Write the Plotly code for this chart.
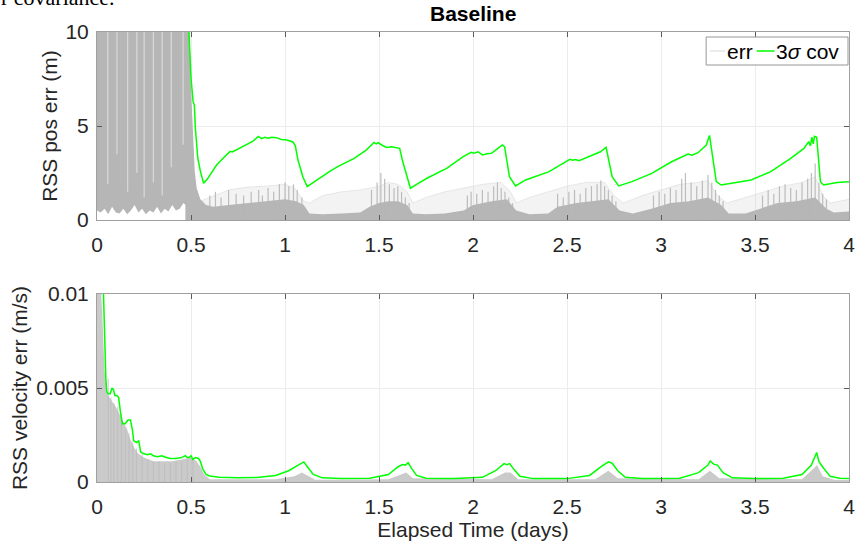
import plotly.graph_objects as go
from plotly.subplots import make_subplots

# ---------------- data ----------------
x_ticks = [0, 0.5, 1, 1.5, 2, 2.5, 3, 3.5, 4]
x_tick_labels = ["0", "0.5", "1", "1.5", "2", "2.5", "3", "3.5", "4"]
pos_y_ticks = [0, 5, 10]
pos_y_tick_labels = ["0", "5", "10"]
vel_y_ticks = [0, 0.005, 0.01]
vel_y_tick_labels = ["0", "0.005", "0.01"]
legend_labels = ["err", "3<i>σ</i> cov"]

# 3-sigma position covariance (m)
pos_cov_t = [0.488, 0.500, 0.511, 0.518, 0.523, 0.536, 0.550, 0.567, 0.585, 0.603, 0.637, 0.672,
             0.708, 0.720, 0.760, 0.796, 0.830, 0.858, 0.875, 0.893, 0.910, 0.930, 0.954, 0.980,
             1.010, 1.042, 1.055, 1.069, 1.082, 1.095, 1.118, 1.150, 1.190, 1.240, 1.280, 1.368,
             1.430, 1.473, 1.485, 1.495, 1.515, 1.540, 1.566, 1.610, 1.624, 1.640, 1.667, 1.700,
             1.755, 1.860, 1.948, 1.990, 2.005, 2.027, 2.050, 2.075, 2.098, 2.133, 2.156, 2.168,
             2.180, 2.194, 2.226, 2.280, 2.405, 2.493, 2.515, 2.530, 2.545, 2.564, 2.634, 2.678,
             2.708, 2.722, 2.740, 2.775, 2.845, 2.951, 3.056, 3.144, 3.165, 3.197, 3.241, 3.258,
             3.276, 3.294, 3.320, 3.479, 3.584, 3.690, 3.760, 3.786, 3.795, 3.802, 3.810, 3.816,
             3.828, 3.839, 3.848, 3.865, 3.936, 4.000]
pos_cov_v = [10.2, 7.55, 6.31, 6.10, 4.90, 3.30, 2.59, 1.95, 2.15, 2.41, 2.94, 3.30,
             3.65, 3.62, 3.82, 4.00, 4.20, 4.45, 4.33, 4.40, 4.35, 4.40, 4.38, 4.28,
             4.26, 4.15, 3.95, 3.19, 2.70, 2.30, 1.78, 2.00, 2.30, 2.60, 2.84, 3.28,
             3.70, 4.13, 4.05, 4.12, 3.99, 3.86, 3.90, 3.81, 3.19, 2.66, 1.69, 1.90,
             2.22, 2.75, 3.37, 3.60, 3.55, 3.63, 3.46, 3.52, 3.55, 3.81, 3.99, 3.90,
             3.19, 2.30, 1.81, 2.13, 2.57, 3.10, 3.23, 3.18, 3.22, 3.15, 3.46, 3.63,
             3.86, 3.19, 2.30, 1.81, 2.04, 2.48, 3.10, 3.51, 3.45, 3.58, 3.99, 4.50,
             3.19, 2.04, 1.86, 2.13, 2.57, 3.28, 3.81, 4.17, 3.94, 4.40, 4.05, 4.45,
             4.40, 3.19, 2.04, 1.86, 1.99, 2.04]

# 3-sigma velocity covariance (m/s)
vel_cov_t = [0.034, 0.038, 0.042, 0.047, 0.052, 0.060, 0.070, 0.080, 0.088, 0.095, 0.105, 0.115,
             0.125, 0.135, 0.150, 0.165, 0.178, 0.188, 0.195, 0.210, 0.222, 0.232, 0.250, 0.270,
             0.285, 0.300, 0.320, 0.345, 0.365, 0.390, 0.420, 0.450, 0.470, 0.480, 0.490, 0.500,
             0.510, 0.525, 0.540, 0.550, 0.562, 0.580, 0.600, 0.650, 0.750, 0.850, 0.950, 1.020,
             1.070, 1.100, 1.120, 1.150, 1.200, 1.300, 1.450, 1.550, 1.600, 1.625, 1.640, 1.655,
             1.675, 1.700, 1.750, 1.900, 2.050, 2.120, 2.165, 2.180, 2.195, 2.215, 2.250, 2.320,
             2.500, 2.620, 2.680, 2.720, 2.740, 2.770, 2.810, 2.900, 3.100, 3.200, 3.250, 3.262,
             3.280, 3.300, 3.330, 3.380, 3.500, 3.650, 3.750, 3.800, 3.828, 3.840, 3.860, 3.900,
             3.950, 4.000]
vel_cov_v = [0.0102, 0.0085, 0.0068, 0.0055, 0.0048, 0.0047, 0.0047, 0.0050, 0.0049, 0.0046, 0.0046, 0.0045,
             0.0037, 0.0031, 0.0031, 0.0033, 0.0033, 0.0028, 0.0022, 0.0021, 0.0022, 0.0016, 0.0015, 0.00145,
             0.0015, 0.0014, 0.00135, 0.0014, 0.00132, 0.00125, 0.00125, 0.0013, 0.0014, 0.0013, 0.0013, 0.0014,
             0.0012, 0.0013, 0.00125, 0.0011, 0.0007, 0.0004, 0.00032, 0.00025, 0.00022, 0.00024, 0.00035, 0.0006,
             0.0009, 0.00107, 0.0008, 0.0004, 0.00022, 0.00018, 0.0002, 0.0004, 0.0008, 0.00093, 0.0009, 0.00103,
             0.0007, 0.00035, 0.0002, 0.00018, 0.00025, 0.0006, 0.00098, 0.00092, 0.00098, 0.0007, 0.0003, 0.00018,
             0.00018, 0.00035, 0.0008, 0.00107, 0.0010, 0.0006, 0.00025, 0.00018, 0.0002, 0.0005, 0.0009, 0.00112,
             0.00095, 0.0009, 0.0005, 0.00022, 0.00018, 0.0002, 0.0004, 0.0009, 0.00157, 0.0011, 0.0008, 0.0003,
             0.0002, 0.00018]

# Monte Carlo position error: initial (0 - 0.49 d) band, lower edge
pos_err_early_t = [0.0, 0.02, 0.04, 0.06, 0.08, 0.10, 0.12, 0.14, 0.16, 0.18, 0.20, 0.22, 0.24,
                   0.26, 0.28, 0.30, 0.32, 0.34, 0.36, 0.38, 0.40, 0.42, 0.44, 0.46, 0.48]
pos_err_early_lo = [0.5, 0.4, 0.6, 0.3, 0.7, 0.4, 0.35, 0.6, 0.3, 0.5, 0.8, 0.4, 0.6,
                    0.3, 0.5, 0.4, 0.7, 0.35, 0.6, 0.45, 0.8, 0.5, 0.6, 0.9, 0.7]
pos_err_early_hi = 10.5
# lighter gaps between the early error streaks: time and lowest extent (m)
pos_gap_t = [0.057, 0.106, 0.163, 0.212, 0.251, 0.300, 0.347, 0.395, 0.458]
pos_gap_lo = [1.9, 3.5, 1.5, 2.5, 1.2, 2.0, 1.3, 2.8, 4.0]

# dense part of the position error after convergence (upper envelope, m)
pos_err_dense_t = [0.47, 0.49, 0.50, 0.51, 0.52, 0.53, 0.55, 0.58, 0.62, 0.70, 0.80, 0.90, 1.00, 1.06,
                   1.10, 1.13, 1.20, 1.30, 1.40, 1.45, 1.50, 1.55, 1.60, 1.65, 1.68, 1.75, 1.85, 1.95,
                   2.00, 2.10, 2.18, 2.23, 2.30, 2.40, 2.45, 2.55, 2.65, 2.72, 2.78, 2.85, 2.95, 3.05,
                   3.15, 3.25, 3.32, 3.36, 3.45, 3.53, 3.62, 3.72, 3.82, 3.88, 3.92, 4.00]
pos_err_dense_hi = [10.5, 10.5, 7.0, 4.5, 2.6, 1.7, 1.1, 0.8, 0.7, 0.8, 0.9, 1.0, 1.1, 1.0,
                    0.8, 0.35, 0.3, 0.35, 0.4, 0.7, 0.9, 1.0, 1.0, 0.8, 0.35, 0.3, 0.35, 0.5,
                    0.8, 1.0, 1.1, 0.5, 0.3, 0.35, 0.7, 0.9, 1.0, 1.1, 0.5, 0.35, 0.6, 0.9,
                    1.0, 1.2, 0.8, 0.35, 0.35, 0.6, 0.9, 1.0, 1.2, 0.6, 0.4, 0.45]

# faint individual-run arcs (upper envelope, m)
pos_err_faint_t = [0.55, 0.60, 0.70, 0.80, 0.90, 1.00, 1.05, 1.10, 1.13, 1.20, 1.30, 1.40, 1.50, 1.55,
                   1.60, 1.65, 1.68, 1.75, 1.85, 1.95, 2.05, 2.15, 2.20, 2.23, 2.30, 2.40, 2.50, 2.60,
                   2.70, 2.75, 2.80, 2.90, 3.00, 3.10, 3.20, 3.25, 3.30, 3.35, 3.45, 3.55, 3.65, 3.75,
                   3.82, 3.86, 3.90, 4.00]
pos_err_faint_hi = [1.0, 1.2, 1.6, 1.75, 1.8, 1.9, 1.7, 1.0, 0.9, 1.3, 1.5, 1.6, 1.8, 2.0,
                    1.9, 1.5, 0.9, 1.2, 1.5, 1.7, 1.9, 2.0, 1.5, 0.9, 1.2, 1.5, 1.8, 2.0,
                    2.0, 1.3, 0.9, 1.3, 1.6, 1.9, 2.0, 2.1, 1.3, 0.9, 1.2, 1.5, 1.8, 2.0,
                    2.3, 1.3, 0.9, 1.1]

# vertical error streaks during measurement passes (time, peak m)
pos_streak_t = [0.60, 0.63, 0.66, 0.70, 0.74, 0.78, 0.82, 0.86, 0.88, 0.91, 0.94, 0.97, 1.00, 1.02,
                1.045, 1.065, 1.09,
                1.46, 1.49, 1.51, 1.53, 1.555, 1.58, 1.60, 1.62, 1.64, 1.66,
                1.97, 1.99, 2.02, 2.05, 2.08, 2.11, 2.13, 2.15, 2.17, 2.19, 2.21,
                2.45, 2.48, 2.51, 2.54, 2.57, 2.60, 2.63, 2.66, 2.68, 2.70, 2.72, 2.74, 2.76,
                2.96, 2.99, 3.02, 3.05, 3.08, 3.11, 3.13, 3.16, 3.19, 3.22, 3.25, 3.27, 3.29, 3.31, 3.33,
                3.54, 3.57, 3.60, 3.63, 3.66, 3.69, 3.72, 3.75, 3.78, 3.80, 3.82, 3.84, 3.86, 3.88]
pos_streak_v = [1.3, 1.5, 1.2, 1.6, 1.4, 1.3, 1.5, 1.6, 1.3, 1.7, 1.5, 1.9, 2.0, 1.8,
                1.9, 1.6, 1.2,
                1.6, 2.0, 2.5, 2.2, 1.9, 1.7, 1.8, 1.5, 1.2, 0.9,
                1.3, 1.5, 1.4, 1.6, 1.5, 1.8, 2.0, 1.7, 1.5, 1.2, 0.9,
                1.4, 1.2, 1.5, 1.6, 1.4, 1.7, 1.8, 1.9, 2.1, 1.8, 1.6, 1.3, 1.0,
                1.3, 1.5, 1.4, 1.7, 1.6, 2.2, 2.5, 2.0, 1.8, 2.1, 2.4, 2.0, 1.6, 1.3, 1.0,
                1.3, 1.6, 1.4, 1.8, 1.9, 1.7, 1.6, 2.0, 2.2, 2.5, 3.0, 2.0, 1.4, 1.1]

# Monte Carlo velocity error upper envelope (m/s)
vel_err_t = [0.0, 0.01, 0.02, 0.03, 0.04, 0.05, 0.06, 0.08, 0.10, 0.12, 0.14, 0.16, 0.18, 0.20,
             0.22, 0.25, 0.30, 0.35, 0.40, 0.45, 0.50, 0.53, 0.55, 0.57, 0.60, 0.95, 1.05, 1.09,
             1.11, 1.16, 1.55, 1.62, 1.645, 1.68, 2.10, 2.17, 2.20, 2.24, 2.65, 2.72, 2.77, 3.20,
             3.26, 3.31, 3.75, 3.82, 3.83, 3.86, 3.92, 4.00]
vel_err_hi = [0.0105, 0.0105, 0.0105, 0.0085, 0.0060, 0.0050, 0.0046, 0.0043, 0.0040, 0.0036, 0.0032,
              0.0028, 0.0022, 0.0018, 0.0015, 0.0013, 0.0011, 0.0011, 0.0011, 0.0012, 0.0013, 0.0011,
              0.0008, 0.0004, 0.00015, 0.00015, 0.0003, 0.0005, 0.0004, 0.00012, 0.00015, 0.0004,
              0.0005, 0.0002, 0.00015, 0.0005, 0.0005, 0.00015, 0.00015, 0.0006, 0.0002, 0.00015,
              0.0006, 0.0002, 0.00015, 0.0008, 0.0009, 0.0003, 0.00012, 0.0001]
vel_streak_t = [0.06, 0.075, 0.09, 0.11, 0.13, 0.15, 0.17, 0.19, 0.21, 0.24, 0.27, 0.30, 0.33,
                0.36, 0.39, 0.42, 0.45, 0.48, 0.51]
vel_streak_v = [0.0055, 0.0045, 0.0042, 0.0040, 0.0036, 0.0028, 0.0026, 0.0022, 0.0018, 0.0015,
                0.0012, 0.0011, 0.0011, 0.0010, 0.0010, 0.0011, 0.0011, 0.0012, 0.0012]

# ---------------- figure ----------------
GRAY = "rgb(182,182,182)"
GREEN = "rgb(0,255,0)"
FONT = "Liberation Sans, Arial, Helvetica, sans-serif"
TXT = "rgb(38,38,38)"
FS = 21


def segments(ts, lows, highs):
    xs, ys = [], []
    for t, lo, hi in zip(ts, lows, highs):
        xs += [t, t, None]
        ys += [lo, hi, None]
    return xs, ys


fig = make_subplots(rows=2, cols=1, vertical_spacing=0.1644)

# --- top: position ---
early_x = pos_err_early_t + pos_err_early_t[::-1]
early_y = pos_err_early_lo + [pos_err_early_hi] * len(pos_err_early_t)
fig.add_trace(go.Scatter(x=early_x, y=early_y, fill="toself", fillcolor=GRAY, mode="lines",
                         line=dict(width=0, color=GRAY), hoverinfo="skip"), row=1, col=1)
fig.add_trace(go.Scatter(x=pos_err_faint_t, y=pos_err_faint_hi, fill="tozeroy",
                         fillcolor="rgba(200,200,200,0.22)", mode="lines",
                         line=dict(width=0.6, color="rgba(205,205,205,0.7)"),
                         hoverinfo="skip"), row=1, col=1)
fig.add_trace(go.Scatter(x=pos_err_dense_t, y=pos_err_dense_hi, fill="tozeroy", fillcolor=GRAY,
                         mode="lines", line=dict(width=0, color=GRAY), hoverinfo="skip"), row=1, col=1)
sx, sy = segments(pos_streak_t, [0] * len(pos_streak_t), pos_streak_v)
fig.add_trace(go.Scatter(x=sx, y=sy, mode="lines", line=dict(width=1.2, color="rgba(182,182,182,0.9)"),
                         hoverinfo="skip"), row=1, col=1)
gx, gy = segments(pos_gap_t, pos_gap_lo, [pos_err_early_hi] * len(pos_gap_t))
fig.add_trace(go.Scatter(x=gx, y=gy, mode="lines", line=dict(width=1.3, color="rgba(255,255,255,0.45)"),
                         hoverinfo="skip"), row=1, col=1)
fig.add_trace(go.Scatter(x=pos_cov_t, y=pos_cov_v, mode="lines", line=dict(color=GREEN, width=1.5)),
              row=1, col=1)

# --- bottom: velocity ---
fig.add_trace(go.Scatter(x=vel_err_t, y=vel_err_hi, fill="tozeroy", fillcolor="rgba(182,182,182,0.72)",
                         mode="lines", line=dict(width=0, color=GRAY), hoverinfo="skip"), row=2, col=1)
vx, vy = segments(vel_streak_t, [0] * len(vel_streak_t), vel_streak_v)
fig.add_trace(go.Scatter(x=vx, y=vy, mode="lines", line=dict(width=1.0, color="rgba(182,182,182,0.6)"),
                         hoverinfo="skip"), row=2, col=1)
fig.add_trace(go.Scatter(x=vel_cov_t, y=vel_cov_v, mode="lines", line=dict(color=GREEN, width=1.5)),
              row=2, col=1)

axis_common = dict(showline=True, linecolor="rgb(160,160,160)", linewidth=1, mirror="ticks",
                   ticks="inside", ticklen=5, tickcolor="rgb(90,90,90)", showgrid=True,
                   gridcolor="rgb(236,236,236)", gridwidth=1, zeroline=False,
                   tickfont=dict(family=FONT, size=FS, color=TXT))
for r in (1, 2):
    fig.update_xaxes(range=[0, 4], tickvals=x_ticks, ticktext=x_tick_labels, row=r, col=1,
                     ticklabelstandoff=6, **axis_common)
fig.update_yaxes(range=[0, 10], tickvals=pos_y_ticks, ticktext=pos_y_tick_labels, row=1, col=1,
                 ticklabelstandoff=3,
                 title=dict(text="RSS pos err (m)", font=dict(family=FONT, size=FS, color=TXT), standoff=2),
                 **axis_common)
fig.update_yaxes(range=[0, 0.01], tickvals=vel_y_ticks, ticktext=vel_y_tick_labels, row=2, col=1,
                 ticklabelstandoff=3,
                 title=dict(text="RSS velocity err (m/s)", font=dict(family=FONT, size=FS, color=TXT), standoff=2),
                 **axis_common)
fig.update_xaxes(title=dict(text="Elapsed Time (days)", font=dict(family=FONT, size=FS, color=TXT), standoff=2),
                 row=2, col=1)

# legend drawn in paper coordinates (px -> paper: x=(px-97)/758, y=(482-py)/450)
leg_y = (482 - 51) / 450
shapes = [
    dict(type="rect", xref="paper", yref="paper", x0=(711 - 97) / 758, x1=(854 - 97) / 758,
         y0=(482 - 65) / 450, y1=(482 - 37) / 450, line=dict(color="rgb(150,150,150)", width=1),
         fillcolor="white", layer="above"),
    dict(type="line", xref="paper", yref="paper", x0=(715 - 97) / 758, x1=(730 - 97) / 758,
         y0=leg_y, y1=leg_y, line=dict(color="rgb(215,215,215)", width=1), layer="above"),
    dict(type="line", xref="paper", yref="paper", x0=(762 - 97) / 758, x1=(780 - 97) / 758,
         y0=leg_y, y1=leg_y, line=dict(color=GREEN, width=1.5), layer="above"),
]

fig.update_layout(
    width=862, height=543,
    margin=dict(l=97, r=7, t=32, b=61),
    paper_bgcolor="white", plot_bgcolor="white",
    font=dict(family=FONT, color=TXT),
    showlegend=False,
    shapes=shapes,
    annotations=[
        dict(text="<b>Baseline</b>", xref="paper", yref="paper", x=0.5, y=(482 - 14) / 450,
             xanchor="center", yanchor="middle", showarrow=False,
             font=dict(family=FONT, size=FS, color="black")),
        dict(text=legend_labels[0], xref="paper", yref="paper", x=(730 - 97) / 758, y=leg_y,
             xanchor="left", yanchor="middle", showarrow=False,
             font=dict(family=FONT, size=FS, color="black")),
        dict(text=legend_labels[1], xref="paper", yref="paper", x=(779 - 97) / 758, y=leg_y,
             xanchor="left", yanchor="middle", showarrow=False,
             font=dict(family=FONT, size=FS, color="black")),
        dict(text="r covariance.", xref="paper", yref="paper", x=-0.13, y=1.045, xanchor="left",
             yanchor="bottom", showarrow=False,
             font=dict(family="Liberation Serif, Times New Roman, serif", size=22, color="black")),
    ],
)

fig.write_html("out.html")
